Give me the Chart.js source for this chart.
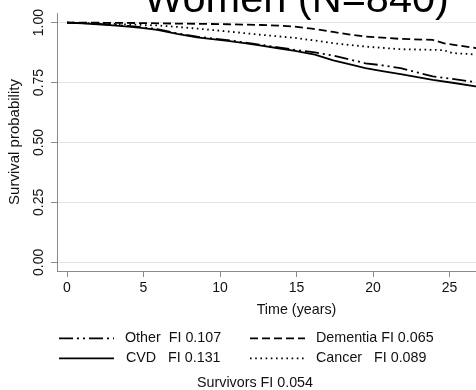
<!DOCTYPE html>
<html><head><meta charset="utf-8">
<script src="https://cdn.jsdelivr.net/npm/chart.js@4/dist/chart.umd.min.js"></script>
<style>
html,body{margin:0;padding:0;background:#fff;overflow:hidden;width:476px;height:390px;}
#c{position:absolute;left:0;top:-30px;}
</style></head><body>
<canvas id="c" width="590" height="420"></canvas>
<script>
const chartTitle = 'Women (N=840)';
const xTitle = 'Time (years)';
const yTitle = 'Survival probability';
const xTicks = [0, 5, 10, 15, 20, 25, 30];
const yTicks = [0, 0.25, 0.5, 0.75, 1];

const seriesNames = ['Other', 'CVD', 'Dementia', 'Cancer'];
const fiValues = [0.107, 0.131, 0.065, 0.089];
const nameGaps = [2, 3, 1, 3];
const survivorsFI = 0.054;

const otherTime = [0, 1, 2, 3, 4, 5, 5.9, 7.2, 8.5, 9.5, 10.5, 11.6, 12.7, 13.8, 14.9, 16.2, 17.4, 18.5, 19.5, 20.6, 21.8, 22.9, 23.9, 25.3, 26.7, 28, 29.5];
const otherSurv = [1, 0.998, 0.995, 0.991, 0.986, 0.98, 0.973, 0.955, 0.941, 0.934, 0.927, 0.917, 0.907, 0.897, 0.886, 0.876, 0.862, 0.846, 0.83, 0.822, 0.81, 0.792, 0.776, 0.764, 0.752, 0.745, 0.738];

const cvdTime = [0, 1, 2, 3, 4, 5, 5.9, 7.2, 8.5, 9.5, 10.5, 11.6, 12.7, 13.8, 14.9, 16.2, 17.4, 18.5, 19.5, 20.6, 21.8, 22.9, 23.9, 25.3, 26.7, 28, 29.5];
const cvdSurv = [1, 0.997, 0.993, 0.988, 0.983, 0.977, 0.97, 0.953, 0.938, 0.931, 0.924, 0.914, 0.904, 0.893, 0.882, 0.866, 0.842, 0.826, 0.81, 0.798, 0.785, 0.773, 0.761, 0.748, 0.734, 0.722, 0.71];

const demTime = [0, 3, 5, 7, 8.5, 10.5, 12.7, 14.0, 14.9, 16.0, 17.4, 18.5, 19.5, 21.8, 23.9, 24.6, 25.5, 26.7, 28, 29.5];
const demSurv = [1, 0.999, 0.998, 0.996, 0.995, 0.993, 0.99, 0.987, 0.983, 0.975, 0.961, 0.95, 0.942, 0.932, 0.928, 0.914, 0.905, 0.894, 0.886, 0.878];

const canTime = [0, 2, 3.7, 5.9, 7.2, 8.5, 10.5, 12.7, 14.9, 16.2, 17.4, 19.5, 21.8, 23.5, 24.6, 25.2, 26.7, 28, 29.5];
const canSurv = [1, 0.997, 0.993, 0.988, 0.982, 0.975, 0.963, 0.949, 0.936, 0.925, 0.914, 0.9, 0.889, 0.887, 0.885, 0.873, 0.867, 0.86, 0.853];

const FONT = '"Liberation Sans", Arial, sans-serif';
const toPts = (t, s) => t.map((v, i) => ({x: v, y: s[i]}));
const lbl = i => seriesNames[i] + ' '.repeat(nameGaps[i]) + 'FI ' + fiValues[i].toFixed(3);

const legendPlugin = {
  id: 'stataLegend',
  afterDraw(chart) {
    const ctx = chart.ctx;
    const pos = [[59, 368.3, 125], [59, 388.3, 126], [250, 368.3, 316], [250, 388.3, 316]];
    ctx.save();
    chart.data.datasets.forEach((ds, i) => {
      const [x0, y, tx] = pos[i];
      ctx.beginPath();
      ctx.setLineDash(ds.borderDash || []);
      ctx.lineWidth = ds.borderWidth;
      ctx.strokeStyle = ds.borderColor;
      ctx.moveTo(x0, y); ctx.lineTo(x0 + 55, y); ctx.stroke();
      ctx.setLineDash([]);
      ctx.fillStyle = '#111';
      ctx.font = '14.3px ' + FONT;
      ctx.textBaseline = 'middle';
      ctx.textAlign = 'left';
      ctx.fillText(ds.label, tx, y);
    });
    ctx.textAlign = 'center';
    ctx.fillText('Survivors FI ' + survivorsFI.toFixed(3), 255, 413.3);
    ctx.restore();
  }
};

const common = {pointRadius: 0, borderColor: '#000', borderWidth: 1.8, fill: false, tension: 0};

new Chart(document.getElementById('c'), {
  type: 'line',
  data: {
    datasets: [
      Object.assign({label: lbl(0), data: toPts(otherTime, otherSurv), borderDash: [14, 4, 2, 4, 2, 4]}, common),
      Object.assign({label: lbl(1), data: toPts(cvdTime, cvdSurv), borderDash: []}, common),
      Object.assign({label: lbl(2), data: toPts(demTime, demSurv), borderDash: [8, 4]}, common),
      Object.assign({label: lbl(3), data: toPts(canTime, canSurv), borderDash: [1.6, 3.6]}, common)
    ]
  },
  options: {
    responsive: false,
    animation: false,
    devicePixelRatio: 1,
    layout: {padding: {left: 0, right: 54, top: 0, bottom: 71}},
    plugins: {
      legend: {display: false},
      tooltip: {enabled: false},
      title: {
        display: true, text: chartTitle, fullSize: false, color: '#000',
        font: {family: FONT, size: 41.5, weight: 'normal', lineHeight: 1},
        padding: {top: 9.85, bottom: -8.35}
      }
    },
    scales: {
      x: {
        type: 'linear', min: -0.654, max: 30.65,
        afterBuildTicks: s => { s.ticks = xTicks.map(v => ({value: v})); },
        afterFit: s => { s.height = 48; },
        ticks: {color: '#111', font: {family: FONT, size: 14}, padding: 2.9, autoSkip: false, maxRotation: 0,
                callback: v => String(v)},
        grid: {drawOnChartArea: false, drawTicks: true, tickLength: 6, tickColor: '#8a8a8a'},
        border: {display: true, color: '#8a8a8a', width: 1},
        title: {display: true, text: xTitle, color: '#111', font: {family: FONT, size: 14.3}, padding: {top: 0, bottom: 0}}
      },
      y: {
        type: 'linear', min: -0.036, max: 1.04,
        afterBuildTicks: s => { s.ticks = yTicks.map(v => ({value: v})); },
        afterFit: s => { s.width = 57; },
        ticks: {color: '#111', font: {family: FONT, size: 14}, padding: -1.5, minRotation: 90, maxRotation: 90,
                crossAlign: 'center', callback: v => Number(v).toFixed(2)},
        grid: {color: '#e4e4e4', lineWidth: 1, drawTicks: true, tickLength: 6, tickColor: '#8a8a8a'},
        border: {display: true, color: '#8a8a8a', width: 1},
        title: {display: true, text: yTitle, color: '#111', font: {family: FONT, size: 15}, padding: {top: 6, bottom: 0}}
      }
    }
  },
  plugins: [legendPlugin]
});
</script>
</body></html>
